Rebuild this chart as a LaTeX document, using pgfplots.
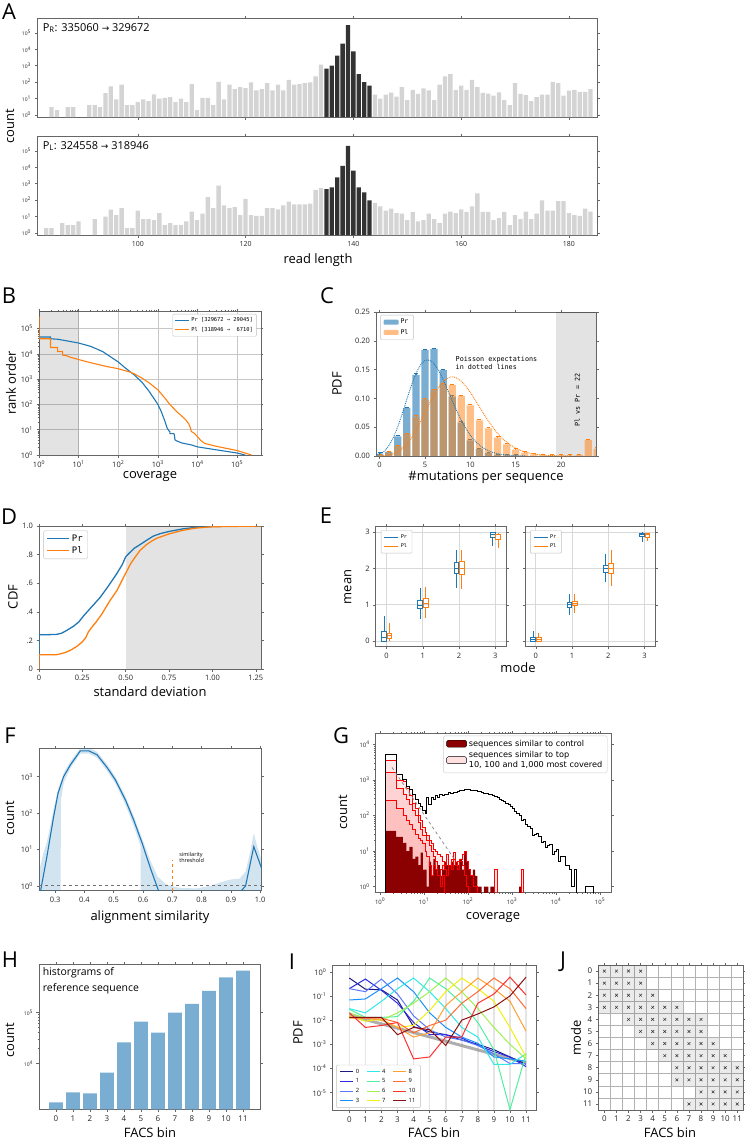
\documentclass[border=0pt]{standalone}
\usepackage{fontspec}
\setmainfont{Open Sans}
\newfontfamily\mono{DejaVu Sans Mono}
\newfontfamily\dvs{DejaVu Sans}
\usepackage{pgfplots}
\pgfplotsset{compat=1.18}
\usepgfplotslibrary{statistics}
\definecolor{mblue}{HTML}{1F77B4}
\definecolor{morange}{HTML}{FF7F0E}
\definecolor{hblue}{HTML}{79ADD2}
\definecolor{dred}{HTML}{8B0000}
\definecolor{frm}{HTML}{666666}
\definecolor{iA}{HTML}{1A1A80}
\definecolor{iB}{HTML}{2A2AE0}
\definecolor{iC}{HTML}{5A78FF}
\definecolor{iD}{HTML}{1A90FF}
\definecolor{iE}{HTML}{30E8E8}
\definecolor{iF}{HTML}{50F0A0}
\definecolor{iG}{HTML}{A0F050}
\definecolor{iH}{HTML}{F0F010}
\definecolor{iI}{HTML}{FFA030}
\definecolor{iJ}{HTML}{FF6A35}
\definecolor{iK}{HTML}{FF3030}
\definecolor{iL}{HTML}{8B1010}
\newcommand\lab{\fontsize{13}{15}\selectfont}
\newcommand\pl{\fontsize{22}{24}\selectfont}
\newcommand\bp[7]{\addplot[#1, line width=0.7bp, forget plot, boxplot prepared={draw direction=y, draw position=#2, lower whisker=#3, lower quartile=#4, median=#5, upper quartile=#6, upper whisker=#7, box extend=0.13, whisker extend=0}] coordinates {};}
\newcommand\cellrow[3]{\addplot[fill=black, fill opacity=0.08, draw=none, forget plot] coordinates {(#1-0.5,#3-0.5) (#2+0.5,#3-0.5) (#2+0.5,#3+0.5) (#1-0.5,#3+0.5)} -- cycle;}
\pgfplotsset{log number format basis/.code 2 args={#1\textsuperscript{\pgfmathprintnumber{#2}}}}
\pgfplotsset{
 every axis/.append style={
  scale only axis, anchor=north west,
  axis line style={frm, line width=0.8bp},
  tick align=outside,
  major tick length=2.5bp, minor tick length=1.4bp,
  tick style={frm, line width=0.5bp},
  tick label style={font=\fontsize{7.5}{8}\selectfont, text=black!85},
  /pgf/number format/assume math mode=true,
  legend cell align=left,
 },
}
\begin{document}
\begin{tikzpicture}
\path[use as bounding box] (0,0) rectangle (745bp,-1141bp);

% ---------------- A ----------------
\node[font=\pl] at (9bp,-12bp) {A};
\node[font=\lab, rotate=90] at (10bp,-126bp) {count};
\node[font=\lab] at (318bp,-260bp) {read length};
\begin{axis}[at={(37bp,-18bp)}, width=560bp, height=99bp, xmin=81.3, xmax=185.2,
  ymode=log, ymin=0.75, ymax=8e5, log origin y=infty,
  xtick={100,120,140,160,180}, xticklabels={}, ytick={1,10,100,1000,10000,100000}, yminorticks=false,
  yticklabel style={font=\fontsize{5}{6}\selectfont}]
\addplot[ybar, bar width=0.8, bar shift=0pt, fill=black!17, draw=none] coordinates {
(84,3) (85,2) (87,3) (88,3) (91,4) (92,4) (93,3) (94,21) (95,54) (96,9) (97,69) (98,4) (99,4) (100,6) (101,9) (102,7) (103,18) (104,10) (105,11) (106,12) (107,6) (108,10) (109,6) (110,75) (111,2) (112,11) (113,11) (114,4) (115,105) (116,9) (117,69) (118,37) (119,49) (120,43) (121,95) (122,31) (123,37) (124,87) (125,31) (126,69) (127,31) (128,138) (129,69) (130,75) (131,87) (132,95) (133,220) (134,1150)
(144,17) (145,10) (146,17) (147,23) (148,13) (149,49) (150,8) (151,34) (152,19) (153,41) (154,31) (155,8) (156,69) (157,220) (158,310) (159,34) (160,60) (161,34) (162,138) (163,49) (164,22) (165,20) (166,15) (167,24) (168,8) (169,4) (170,87) (171,19) (172,16) (173,7) (174,12) (175,17) (176,17) (177,105) (178,87) (179,15) (180,30) (181,34) (182,25) (183,25) (184,37)};
\addplot[ybar, bar width=0.8, bar shift=0pt, fill=black!80, draw=none] coordinates {
(135,660) (136,1000) (137,4100) (138,22000) (139,295000) (140,7500) (141,310) (142,100) (143,60)};
\node[anchor=west, font=\fontsize{11}{13}\selectfont] at (rel axis cs:0.004,0.9) {P\textsubscript{R}: 335060 {\dvs\fontsize{9}{9}\selectfont →} 329672};
\end{axis}
\begin{axis}[at={(37bp,-136bp)}, width=560bp, height=99bp, xmin=81.3, xmax=185.2,
  ymode=log, ymin=0.75, ymax=8e5, log origin y=infty,
  xtick={100,120,140,160,180}, ytick={1,10,100,1000,10000,100000}, yminorticks=false,
  yticklabel style={font=\fontsize{5}{6}\selectfont}, xticklabel style={font=\fontsize{7}{8}\selectfont}]
\addplot[ybar, bar width=0.8, bar shift=0pt, fill=black!17, draw=none] coordinates {
(83,2) (84,2) (86,4) (87,3) (88,3) (89,5) (92,7) (94,10) (95,26) (96,12) (97,32) (98,2) (99,2) (100,23) (101,7) (102,7) (103,6) (104,16) (105,3) (106,4) (107,3) (108,3) (109,5) (110,20) (111,6) (112,15) (113,150) (114,32) (115,760) (116,47) (117,32) (118,37) (119,12) (120,120) (121,12) (122,11) (123,11) (124,32) (125,32) (126,27) (127,47) (128,82) (129,54) (130,54) (131,54) (132,60) (133,420) (134,550)
(144,68) (145,41) (146,23) (147,30) (148,16) (149,15) (150,6) (151,19) (152,5) (153,6) (154,15) (155,7) (156,4) (157,15) (158,20) (159,16) (160,27) (161,19) (162,41) (163,260) (164,19) (165,19) (166,6) (167,8) (168,19) (169,3) (170,12) (171,7) (172,20) (173,7) (174,15) (175,95) (176,23) (177,23) (178,86) (179,86) (180,16) (181,12) (182,11) (183,30) (184,20)};
\addplot[ybar, bar width=0.8, bar shift=0pt, fill=black!80, draw=none] coordinates {
(135,460) (136,600) (137,2400) (138,12000) (139,200000) (140,6200) (141,600) (142,300) (143,95)};
\node[anchor=west, font=\fontsize{11}{13}\selectfont] at (rel axis cs:0.004,0.9) {P\textsubscript{L}: 324558 {\dvs\fontsize{9}{9}\selectfont →} 318946};
\end{axis}

% ---------------- B ----------------
\node[font=\pl] at (9bp,-296bp) {B};
\node[font=\lab, rotate=90] at (11bp,-383bp) {rank order};
\node[font=\lab] at (150bp,-477bp) {coverage};
\begin{axis}[at={(39bp,-311bp)}, width=222bp, height=144bp, xmode=log, ymode=log,
  xmin=1, xmax=4e5, ymin=1, ymax=5e5,
  grid=major, major grid style={black!22, line width=0.5bp},
  xtick={1,10,100,1000,10000,100000}, ytick={1,10,100,1000,10000,100000},
  legend style={at={(0.98,0.98)}, anchor=north east, font=\mono\fontsize{5.4}{6.6}\selectfont, draw=black!25, rounded corners=1bp, inner sep=1.5bp},
  legend image code/.code={\draw[#1] (0bp,0bp) -- (14bp,0bp);}]
\addplot[fill=black, fill opacity=0.11, draw=none, forget plot] coordinates {(1,1) (10,1) (10,5e5) (1,5e5)} -- cycle;
\addplot[mblue, line width=1.1bp] coordinates {
(1,47000) (1.95,47000) (1.95,40000) (3,38000) (5,33000) (10,27000) (20,20000) (40,12500) (70,7000) (100,4800) (150,2800) (250,1500) (400,750) (600,330) (800,170) (1000,100) (1200,55) (1500,22) (1700,12) (1900,9) (2000,8.5) (2000,7) (2500,7) (2600,6.5) (2700,4) (3000,3.6) (4000,3) (7000,2.5) (10000,2.1) (30000,1.6) (100000,1.2) (160000,1)};
\addlegendentry{Pr [329672 →~29045]}
\addplot[morange, line width=1.1bp] coordinates {
(1,300000) (1,40000) (1.95,40000) (1.95,18000) (2.95,18000) (2.95,12500) (3.95,12500) (3.95,9000) (5,8500) (6,7500) (10,6000) (20,4500) (50,3200) (100,2600) (200,1900) (250,1650) (400,1100) (600,720) (1000,380) (1500,180) (2000,100) (3000,52) (4000,35) (5000,25) (6000,17) (6500,13) (7000,8.5) (8000,7.5) (10000,5.3) (12000,3.8) (15000,2.9) (30000,2.2) (100000,1.5) (230000,1)};
\addlegendentry{Pl [318946 →~~6710]}
\end{axis}

% ---------------- C ----------------
\node[font=\pl] at (327bp,-296bp) {C};
\node[font=\lab, rotate=90] at (337bp,-384bp) {PDF};
\node[font=\lab] at (486bp,-477bp) {\#mutations per sequence};
\begin{axis}[at={(376bp,-312bp)}, width=220bp, height=144bp, xmin=-0.4, xmax=23.85, ymin=0, ymax=0.25,
  xtick={0,5,10,15,20}, ytick={0,0.05,0.1,0.15,0.2,0.25},
  yticklabel style={/pgf/number format/fixed, /pgf/number format/fixed zerofill, /pgf/number format/precision=2},
  legend style={at={(0.02,0.98)}, anchor=north west, font=\mono\fontsize{6.5}{8}\selectfont, draw=black!25, rounded corners=1bp},
  legend image code/.code={\fill[#1, draw=none] (0bp,-2.5bp) rectangle (15bp,2.5bp);}]
\addplot[fill=black, fill opacity=0.11, draw=none, forget plot] coordinates {(19.4,0) (24,0) (24,0.25) (19.4,0.25)} -- cycle;
\addplot[ybar, bar width=0.8, bar shift=0pt, fill=mblue, fill opacity=0.6, draw=none, forget plot,
  error bars/.cd, y dir=plus, y fixed=0.002, error mark=-, error bar style={mblue, line width=0.6bp}] coordinates {
(0,0.004) (1,0.007) (2,0.034) (3,0.083) (4,0.141) (5,0.184) (6,0.186) (7,0.149) (8,0.103) (9,0.058) (10,0.027) (11,0.012) (12,0.005) (13,0.002) (14,0.001) (15,0.0004)};
\addplot[ybar, bar width=0.8, bar shift=0pt, fill=morange, fill opacity=0.5, draw=none, forget plot,
  error bars/.cd, y dir=plus, y fixed=0.002, error mark=-, error bar style={morange, line width=0.6bp}] coordinates {
(0,0.001) (1,0.006) (2,0.017) (3,0.038) (4,0.068) (5,0.098) (6,0.114) (7,0.125) (8,0.123) (9,0.104) (10,0.088) (11,0.062) (12,0.048) (13,0.032) (14,0.020) (15,0.011) (16,0.006) (17,0.003) (18,0.002) (19,0.001) (20,0.0005) (21,0.0005) (22,0.002) (23,0.028) (24,0.013)};
\addplot[mblue, densely dotted, line width=0.9bp, smooth, forget plot] coordinates {
(-0.3,0.0015) (0,0.003) (0.5,0.0082) (1,0.0176) (1.5,0.0318) (2,0.0509) (2.5,0.0738) (3,0.0985) (3.5,0.1223) (4,0.1428) (4.5,0.1577) (5,0.1656) (5.5,0.1662) (6,0.1601) (6.5,0.1483) (7,0.1326) (7.5,0.1147) (8,0.0962) (8.5,0.0783) (9,0.0620) (9.5,0.0478) (10,0.0359) (10.5,0.0264) (11,0.0190) (11.5,0.0133) (12,0.0092) (12.5,0.0062) (13,0.0041) (13.5,0.0027) (14,0.0017) (15,0.0007) (16,0.0002)};
\addplot[morange, densely dotted, line width=0.9bp, smooth, forget plot] coordinates {
(0,0.0002) (1,0.0017) (2,0.0074) (3,0.0208) (4,0.0443) (5,0.0752) (6,0.1066) (7,0.1294) (8,0.1375) (9,0.1299) (10,0.1104) (11,0.0853) (12,0.0604) (13,0.0395) (14,0.024) (15,0.0136) (16,0.0072) (17,0.0036) (18,0.0017) (19,0.0008) (20,0.0003) (21,0.0001)};
\addlegendimage{fill=mblue, fill opacity=0.6}
\addlegendentry{Pr}
\addlegendimage{fill=morange, fill opacity=0.5}
\addlegendentry{Pl}
\node[anchor=west, font=\mono\fontsize{6.8}{8}\selectfont, align=left] at (axis cs:8.0,0.162) {Poisson expectations\\in dotted lines};
\node[rotate=90, font=\mono\fontsize{6.8}{8}\selectfont] at (axis cs:21.8,0.097) {Pl vs Pr = 22};
\end{axis}

% ---------------- D ----------------
\node[font=\pl] at (9bp,-517bp) {D};
\node[font=\lab, rotate=90] at (13bp,-597bp) {CDF};
\node[font=\lab] at (150bp,-692bp) {standard deviation};
\begin{axis}[at={(39bp,-526bp)}, width=222bp, height=143bp, xmin=0, xmax=1.28, ymin=0, ymax=1,
  xtick={0,0.25,0.5,0.75,1,1.25}, xticklabels={0,0.25,0.50,0.75,1.00,1.25},
  ytick={0,0.2,0.4,0.6,0.8,1}, yticklabels={0,.2,.4,.6,.8,1.0},
  legend style={at={(0.02,0.97)}, anchor=north west, font=\mono\fontsize{9}{11}\selectfont, draw=black!25, rounded corners=1.5bp},
  legend image code/.code={\draw[#1] (0bp,0bp) -- (22bp,0bp);}]
\addplot[fill=black, fill opacity=0.11, draw=none, forget plot] coordinates {(0.5,0) (1.28,0) (1.28,1) (0.5,1)} -- cycle;
\addplot[mblue, line width=1.3bp] coordinates {
(0,0) (0,0.24) (0.05,0.24) (0.1,0.242) (0.13,0.25) (0.16,0.27) (0.2,0.3) (0.23,0.33) (0.256,0.37) (0.3,0.43) (0.352,0.5) (0.4,0.58) (0.45,0.67) (0.48,0.73) (0.5,0.785) (0.52,0.81) (0.55,0.845) (0.583,0.87) (0.62,0.9) (0.66,0.93) (0.7,0.947) (0.75,0.962) (0.83,0.98) (0.9,0.99) (1.0,0.996) (1.1,0.999) (1.28,1)};
\addlegendentry{Pr}
\addplot[morange, line width=1.3bp] coordinates {
(0,0) (0,0.1) (0.05,0.1) (0.1,0.1) (0.12,0.105) (0.15,0.115) (0.18,0.13) (0.218,0.158) (0.25,0.19) (0.27,0.22) (0.285,0.26) (0.3,0.285) (0.33,0.33) (0.36,0.38) (0.41,0.48) (0.45,0.55) (0.487,0.64) (0.5,0.67) (0.53,0.74) (0.55,0.775) (0.583,0.83) (0.62,0.87) (0.65,0.895) (0.68,0.915) (0.75,0.945) (0.83,0.97) (0.9,0.985) (1.0,0.995) (1.28,1)};
\addlegendentry{Pl}
\end{axis}

% ---------------- E ----------------
\node[font=\pl] at (326bp,-516bp) {E};
\node[font=\lab, rotate=90] at (348bp,-587bp) {mean};
\node[font=\lab] at (518bp,-668bp) {mode};
\pgfplotsset{eax/.style={width=130.5bp, height=120bp, xmin=-0.3, xmax=3.3, ymin=-0.15, ymax=3.15,
  xtick={0,1,2,3}, ytick={0,1,2,3}, grid=major, major grid style={black!15, line width=0.8bp},
  legend style={at={(0.04,0.97)}, anchor=north west, font=\mono\fontsize{5.2}{6.5}\selectfont, draw=black!25, rounded corners=1bp},
  legend image code/.code={\draw[##1] (0bp,0bp) -- (14bp,0bp);}}}
\begin{axis}[eax, at={(375.7bp,-526.7bp)}]
\addlegendimage{mblue, line width=0.7bp}\addlegendentry{Pr}
\addlegendimage{morange, line width=0.7bp}\addlegendentry{Pl}
\bp{mblue}{-0.075}{0}{0.01}{0.1}{0.27}{0.7}
\bp{morange}{0.075}{0}{0.07}{0.15}{0.22}{0.49}
\bp{mblue}{0.925}{0.6}{0.9}{0.99}{1.13}{1.47}
\bp{morange}{1.075}{0.63}{0.94}{1.04}{1.17}{1.5}
\bp{mblue}{1.925}{1.47}{1.88}{2.0}{2.18}{2.5}
\bp{morange}{2.075}{1.43}{1.83}{2.0}{2.2}{2.5}
\bp{mblue}{2.925}{2.62}{2.85}{2.95}{3.0}{3.0}
\bp{morange}{3.075}{2.57}{2.8}{2.93}{2.95}{2.98}
\end{axis}
\begin{axis}[eax, at={(525bp,-526.7bp)}, yticklabels={}]
\addlegendimage{mblue, line width=0.7bp}\addlegendentry{Pr}
\addlegendimage{morange, line width=0.7bp}\addlegendentry{Pl}
\bp{mblue}{-0.075}{0}{0}{0.05}{0.11}{0.29}
\bp{morange}{0.075}{0}{0.01}{0.05}{0.1}{0.22}
\bp{mblue}{0.925}{0.72}{0.93}{1.01}{1.08}{1.31}
\bp{morange}{1.075}{0.78}{0.98}{1.04}{1.11}{1.31}
\bp{mblue}{1.925}{1.63}{1.9}{2.0}{2.1}{2.4}
\bp{morange}{2.075}{1.51}{1.88}{2.01}{2.13}{2.5}
\bp{mblue}{2.925}{2.74}{2.89}{2.95}{2.98}{3.0}
\bp{morange}{3.075}{2.75}{2.86}{2.93}{2.97}{2.98}
\end{axis}

% ---------------- F ----------------
\node[font=\pl] at (10bp,-736bp) {F};
\node[font=\lab, rotate=90] at (10bp,-818bp) {count};
\node[font=\lab] at (150bp,-917bp) {alignment similarity};
\begin{axis}[at={(39bp,-748.3bp)}, width=222.7bp, height=142.4bp, xmin=0.245, xmax=1.005,
  ymode=log, ymin=0.74, ymax=6000, yminorticks=false,
  xtick={0.3,0.4,0.5,0.6,0.7,0.8,0.9,1.0}, xticklabels={0.3,0.4,0.5,0.6,0.7,0.8,0.9,1.0},
  ytick={1,10,100,1000}]
\addplot[fill=mblue, fill opacity=0.2, draw=none] coordinates {
(0.245,2.5) (0.26,8) (0.272,16) (0.295,130) (0.31,450) (0.33,1300) (0.352,2600) (0.386,6200) (0.415,6200) (0.443,4800) (0.477,2200) (0.506,1000) (0.54,290) (0.568,85) (0.597,20) (0.625,5) (0.65,1.8) (0.68,1.1) (0.72,0.9) (0.78,0.85) (0.83,1.0) (0.87,1.3) (0.9,1.5) (0.93,1.6) (0.95,2.5) (0.965,8) (0.978,28) (0.99,12) (1.005,5)
(1.005,0.1) (0.592,0.1) (0.592,12) (0.568,45) (0.54,170) (0.506,640) (0.477,1450) (0.443,3300) (0.415,4300) (0.386,4300) (0.352,1700) (0.33,700) (0.32,230) (0.318,0.1) (0.245,0.1)} -- cycle;
\addplot[mblue, line width=1.1bp] coordinates {
(0.25,0.7) (0.272,6.4) (0.295,80) (0.31,350) (0.329,1000) (0.352,2100) (0.386,5100) (0.415,5100) (0.443,4000) (0.477,1800) (0.506,810) (0.54,230) (0.568,65) (0.597,15) (0.625,3.1) (0.654,0.7)};
\addplot[mblue, line width=1.1bp] coordinates {(0.925,0.6) (0.95,1.0) (0.978,12) (1.005,3)};
\addplot[black!55, dashed, line width=0.9bp] coordinates {(0.245,1) (1.005,1)};
\addplot[morange, dashed, line width=1bp] coordinates {(0.7,0.5) (0.7,5.2)};
\node[anchor=west, font=\fontsize{5.5}{6.5}\selectfont, align=left] at (axis cs:0.712,6.1) {similarity\\threshold};
\end{axis}

% ---------------- G ----------------
\node[font=\pl] at (341bp,-736bp) {G};
\node[font=\lab, rotate=90] at (343bp,-812bp) {count};
\node[font=\lab] at (493bp,-918bp) {coverage};
\begin{axis}[at={(375.7bp,-733.3bp)}, width=235.3bp, height=159bp, xmin=-0.1, xmax=5.25,
  ymode=log, ymin=0.69, ymax=20400,
  xtick={0,1,2,3,4,5}, xticklabels={10\textsuperscript{0},10\textsuperscript{1},10\textsuperscript{2},10\textsuperscript{3},10\textsuperscript{4},10\textsuperscript{5}},
  minor xtick={0.301,0.477,0.602,0.699,0.778,0.845,0.903,0.954,1.301,1.477,1.602,1.699,1.778,1.845,1.903,1.954,2.301,2.477,2.602,2.699,2.778,2.845,2.903,2.954,3.301,3.477,3.602,3.699,3.778,3.845,3.903,3.954,4.301,4.477,4.602,4.699,4.778,4.845,4.903,4.954},
  ytick={1,10,100,1000,10000}, tick label style={font=\fontsize{6}{7}\selectfont},
  legend style={at={(0.985,0.985)}, anchor=north east, font=\dvs\fontsize{8.2}{9.6}\selectfont, draw=black!20, rounded corners=1.5bp, cells={align=left}},
  legend image code/.code={\fill[#1] (0bp,-3.5bp) rectangle (20bp,3.5bp);}]
\addplot[const plot, fill=red, fill opacity=0.09, draw=none, forget plot] coordinates {
(0.114,0.1) (0.114,3630) (0.362,980) (0.519,930) (0.60,560) (0.667,355) (0.742,224) (0.80,158) (0.87,100) (0.92,71) (0.97,45) (1.02,33) (1.06,28) (1.11,20) (1.16,16) (1.21,11) (1.26,10) (1.31,8) (1.36,7) (1.41,5) (1.46,4) (1.51,8) (1.56,4) (1.61,6) (1.66,9) (1.71,4) (1.76,5) (1.81,6) (1.86,8) (1.91,10) (1.96,5) (2.01,3) (2.06,2) (2.11,1) (2.21,0.1) (2.61,3) (2.66,0.1) (3.21,3) (3.26,0.1)} -- cycle;
\addplot[const plot, fill=red, fill opacity=0.09, draw=none, forget plot] coordinates {
(0.114,0.1) (0.114,1660) (0.362,560) (0.519,400) (0.60,280) (0.667,200) (0.742,141) (0.80,100) (0.87,63) (0.92,40) (0.97,28) (1.02,28) (1.06,20) (1.11,14) (1.16,10) (1.21,7) (1.26,5) (1.31,2) (1.36,3) (1.41,4) (1.46,3) (1.51,2) (1.56,4) (1.61,3) (1.66,6) (1.71,4) (1.76,3) (1.81,5) (1.86,4) (1.91,2) (1.96,1) (2.01,1) (2.01,0.1)} -- cycle;
\addplot[const plot, fill=red, fill opacity=0.09, draw=none, forget plot] coordinates {
(0.114,0.1) (0.114,263) (0.362,158) (0.519,100) (0.60,71) (0.667,56) (0.742,40) (0.80,30) (0.87,22) (0.92,20) (0.97,16) (1.02,10) (1.06,7) (1.11,4) (1.16,2) (1.21,4) (1.26,3) (1.31,2) (1.36,1) (1.41,2) (1.46,2) (1.46,0.1)} -- cycle;
\addplot[const plot, fill=dred, draw=none, forget plot] coordinates {
(0.114,0.1) (0.114,37) (0.362,25) (0.519,17) (0.60,10) (0.667,13) (0.742,6) (0.80,7) (0.87,4) (0.92,9) (0.97,3) (1.02,3) (1.06,1) (1.11,5) (1.16,2) (1.21,6) (1.26,3) (1.31,4) (1.36,2) (1.41,3) (1.46,5) (1.51,4) (1.56,4) (1.61,5) (1.66,4) (1.71,5) (1.76,4) (1.81,6) (1.86,3) (1.91,10) (1.96,5) (2.01,3) (2.06,2) (2.11,3) (2.16,2) (2.21,1) (2.31,0.1) (2.36,1) (2.46,0.1) (2.51,1) (2.61,0.1) (3.16,1) (3.21,0.1)} -- cycle;
\addplot[const plot, red, line width=0.8bp, forget plot] coordinates {
(0.114,0.1) (0.114,3630) (0.362,980) (0.519,930) (0.60,560) (0.667,355) (0.742,224) (0.80,158) (0.87,100) (0.92,71) (0.97,45) (1.02,33) (1.06,28) (1.11,20) (1.16,16) (1.21,11) (1.26,10) (1.31,8) (1.36,7) (1.41,5) (1.46,4) (1.51,8) (1.56,4) (1.61,6) (1.66,9) (1.71,4) (1.76,5) (1.81,6) (1.86,8) (1.91,10) (1.96,5) (2.01,3) (2.06,2) (2.11,1) (2.21,0.1) (2.61,3) (2.66,0.1) (3.21,3) (3.26,0.1)};
\addplot[const plot, red, line width=0.8bp, forget plot] coordinates {
(0.114,0.1) (0.114,1660) (0.362,560) (0.519,400) (0.60,280) (0.667,200) (0.742,141) (0.80,100) (0.87,63) (0.92,40) (0.97,28) (1.02,28) (1.06,20) (1.11,14) (1.16,10) (1.21,7) (1.26,5) (1.31,2) (1.36,3) (1.41,4) (1.46,3) (1.51,2) (1.56,4) (1.61,3) (1.66,6) (1.71,4) (1.76,3) (1.81,5) (1.86,4) (1.91,2) (1.96,1) (2.01,1) (2.01,0.1)};
\addplot[const plot, red, line width=0.8bp, forget plot] coordinates {
(0.114,0.1) (0.114,263) (0.362,158) (0.519,100) (0.60,71) (0.667,56) (0.742,40) (0.80,30) (0.87,22) (0.92,20) (0.97,16) (1.02,10) (1.06,7) (1.11,4) (1.16,2) (1.21,4) (1.26,3) (1.31,2) (1.36,1) (1.41,2) (1.46,2) (1.46,0.1)};
\addplot[const plot, black, line width=0.9bp, forget plot] coordinates {
(0.114,0.1) (0.114,5250) (0.362,1380) (0.519,1050) (0.60,646) (0.667,525) (0.742,389) (0.80,275) (0.87,214) (0.92,182) (0.97,141) (1.02,112) (1.06,316) (1.11,200) (1.16,331) (1.21,282) (1.26,355) (1.31,316) (1.36,380) (1.41,355) (1.46,398) (1.51,380) (1.56,437) (1.61,417) (1.66,457) (1.71,437) (1.76,479) (1.81,501) (1.86,490) (1.91,525) (1.96,537) (2.01,525) (2.06,513) (2.11,501) (2.16,490) (2.21,479) (2.26,468) (2.31,457) (2.36,427) (2.41,417) (2.46,398) (2.51,380) (2.56,355) (2.61,339) (2.66,316) (2.71,288) (2.76,263) (2.81,240) (2.86,219) (2.91,200) (2.96,178) (3.01,158) (3.06,132) (3.11,112) (3.16,100) (3.21,74) (3.26,76) (3.31,56) (3.36,48) (3.41,43) (3.46,28) (3.51,30) (3.56,32) (3.61,26) (3.66,17) (3.71,18) (3.76,13) (3.81,14) (3.86,15) (3.91,8) (3.96,10) (4.01,11) (4.06,5) (4.11,7) (4.16,7) (4.21,4) (4.26,4) (4.31,3) (4.36,1) (4.41,3) (4.46,0.1) (4.66,1) (4.86,1) (4.86,0.1)};
\addplot[black!45, dashed, line width=0.8bp, forget plot] coordinates {(0.27,2240) (1.7,5.6)};
\addlegendimage{fill=dred}
\addlegendentry{sequences similar to control}
\addlegendimage{fill=red!12}
\addlegendentry{sequences similar to top\\10, 100 and 1,000 most covered}
\end{axis}

% ---------------- H ----------------
\node[font=\pl] at (10bp,-960bp) {H};
\node[font=\lab, rotate=90] at (10bp,-1040bp) {count};
\node[font=\lab] at (150bp,-1133bp) {FACS bin};
\begin{axis}[at={(39bp,-964.3bp)}, width=221bp, height=145bp, xmin=-1, xmax=12,
  ymode=log, ymin=1259, ymax=871000, log origin y=infty,
  xtick={0,...,11}, ytick={10000,100000},
  yticklabel style={font=\fontsize{5}{6}\selectfont}, xticklabel style={font=\fontsize{8}{9}\selectfont}]
\addplot[ybar, bar width=0.8, bar shift=0pt, fill=hblue, draw=none] coordinates {
(0,1720) (1,2700) (2,2580) (3,6600) (4,25900) (5,65600) (6,40000) (7,98500) (8,146000) (9,262000) (10,485000) (11,656000)};
\node[anchor=north west, font=\fontsize{10.5}{16}\selectfont, align=left, inner sep=1bp] at (rel axis cs:0.012,0.985) {historgrams of\\reference sequence};
\end{axis}

% ---------------- I ----------------
\node[font=\pl] at (292bp,-962bp) {I};
\node[font=\lab, rotate=90] at (298bp,-1033bp) {PDF};
\node[font=\lab] at (434bp,-1133bp) {FACS bin};
\begin{axis}[at={(332.3bp,-965bp)}, width=203.7bp, height=145.7bp, xmin=-1.06, xmax=11.62,
  ymode=log, ymin=1.8e-6, ymax=1.9, yminorticks=false,
  xtick={0,...,11}, ytick={0.00001,0.0001,0.001,0.01,0.1,1},
  xmajorgrids, major grid style={black!10, line width=1.6bp},
  xticklabel style={font=\fontsize{8}{9}\selectfont},
  legend columns=3, legend style={at={(0.02,0.02)}, anchor=south west, font=\fontsize{5.8}{6.8}\selectfont, draw=black!25, rounded corners=1bp, /tikz/every even column/.append style={column sep=5bp}},
  legend image code/.code={\draw[#1] (0bp,0bp) -- (13bp,0bp);}]
\addplot[black!45, opacity=0.7, line width=3bp, forget plot] coordinates {(0,0.016) (11,0.00017)};
\addplot[iA, line width=1bp, forget plot] coordinates {(0,0.55) (1,0.19) (2,0.18) (3,0.068) (4,0.0054) (5,0.0033) (6,0.0025) (7,0.0015) (8,0.001) (9,0.0006) (10,0.0003) (11,0.00015)};
\addplot[iB, line width=1bp, forget plot] coordinates {(0,0.2) (1,0.5) (2,0.17) (3,0.05) (4,0.008) (5,0.0025) (6,0.0025) (7,0.0018) (8,0.0009) (9,0.0005) (10,0.0003) (11,0.00012)};
\addplot[iC, line width=1bp, forget plot] coordinates {(0,0.2) (1,0.15) (2,0.5) (3,0.12) (4,0.015) (5,0.004) (6,0.002) (7,0.0015) (8,0.0009) (9,0.0004) (10,0.00016) (11,0.00016)};
\addplot[iD, line width=1bp, forget plot] coordinates {(0,0.068) (1,0.075) (2,0.2) (3,0.55) (4,0.15) (5,0.02) (6,0.005) (7,0.002) (8,0.0011) (9,0.0003) (10,0.00025) (11,0.0002)};
\addplot[iE, line width=1bp, forget plot] coordinates {(0,0.03) (1,0.02) (2,0.06) (3,0.2) (4,0.55) (5,0.15) (6,0.03) (7,0.005) (8,0.002) (9,0.00015) (10,0.00015) (11,0.0004)};
\addplot[iF, line width=1bp, forget plot] coordinates {(0,0.028) (1,0.013) (2,0.013) (3,0.014) (4,0.06) (5,0.55) (6,0.2) (7,0.05) (8,0.008) (9,0.0006) (10,0.000002) (11,0.0004)};
\addplot[iG, line width=1bp, forget plot] coordinates {(0,0.02) (1,0.012) (2,0.01) (3,0.02) (4,0.05) (5,0.15) (6,0.55) (7,0.15) (8,0.03) (9,0.005) (10,0.001) (11,0.00025)};
\addplot[iH, line width=1bp, forget plot] coordinates {(0,0.015) (1,0.009) (2,0.011) (3,0.005) (4,0.006) (5,0.025) (6,0.15) (7,0.55) (8,0.2) (9,0.06) (10,0.005) (11,0.0003)};
\addplot[iI, line width=1bp, forget plot] coordinates {(0,0.012) (1,0.012) (2,0.01) (3,0.005) (4,0.002) (5,0.003) (6,0.04) (7,0.15) (8,0.55) (9,0.2) (10,0.06) (11,0.0035)};
\addplot[iJ, line width=1bp, forget plot] coordinates {(0,0.013) (1,0.012) (2,0.012) (3,0.008) (4,0.003) (5,0.006) (6,0.01) (7,0.05) (8,0.15) (9,0.55) (10,0.2) (11,0.03)};
\addplot[iK, line width=1bp, forget plot] coordinates {(0,0.02) (1,0.005) (2,0.006) (3,0.008) (4,0.00025) (5,0.0003) (6,0.002) (7,0.002) (8,0.05) (9,0.12) (10,0.6) (11,0.11)};
\addplot[iL, line width=1bp, forget plot] coordinates {(0,0.013) (1,0.013) (2,0.013) (3,0.0025) (4,0.005) (5,0.004) (6,0.0009) (7,0.01) (8,0.018) (9,0.035) (10,0.1) (11,0.6)};
\addlegendimage{iA, line width=1.2bp}\addlegendentry{0}
\addlegendimage{iE, line width=1.2bp}\addlegendentry{4}
\addlegendimage{iI, line width=1.2bp}\addlegendentry{8}
\addlegendimage{iB, line width=1.2bp}\addlegendentry{1}
\addlegendimage{iF, line width=1.2bp}\addlegendentry{5}
\addlegendimage{iJ, line width=1.2bp}\addlegendentry{9}
\addlegendimage{iC, line width=1.2bp}\addlegendentry{2}
\addlegendimage{iG, line width=1.2bp}\addlegendentry{6}
\addlegendimage{iK, line width=1.2bp}\addlegendentry{10}
\addlegendimage{iD, line width=1.2bp}\addlegendentry{3}
\addlegendimage{iH, line width=1.2bp}\addlegendentry{7}
\addlegendimage{iL, line width=1.2bp}\addlegendentry{11}
\end{axis}

% ---------------- J ----------------
\node[font=\pl] at (563bp,-962bp) {J};
\node[font=\lab, rotate=90] at (576bp,-1038bp) {mode};
\node[font=\lab] at (670bp,-1133bp) {FACS bin};
\begin{axis}[at={(598.3bp,-965bp)}, width=145bp, height=145bp, xmin=-0.5, xmax=11.5, ymin=-0.5, ymax=11.5,
  y dir=reverse, xtick={0,...,11}, ytick={0,...,11},
  minor xtick={-0.5,0.5,...,11.5}, minor ytick={-0.5,0.5,...,11.5},
  xminorgrids, yminorgrids, minor grid style={black!30, line width=0.6bp}, minor tick length=0pt,
  tick label style={font=\fontsize{8}{9}\selectfont}]
\cellrow{0}{3}{0}
\cellrow{0}{3}{1}
\cellrow{0}{4}{2}
\cellrow{0}{6}{3}
\cellrow{2}{8}{4}
\cellrow{3}{8}{5}
\cellrow{4}{9}{6}
\cellrow{5}{10}{7}
\cellrow{6}{11}{8}
\cellrow{6}{11}{9}
\cellrow{8}{11}{10}
\cellrow{7}{11}{11}
\addplot[only marks, mark=x, mark size=2bp, color=black!80, mark options={line width=0.5bp}] coordinates {
(0,0) (1,0) (2,0) (3,0)
(0,1) (1,1) (2,1) (3,1)
(0,2) (1,2) (2,2) (3,2) (4,2)
(0,3) (1,3) (2,3) (3,3) (4,3) (5,3) (6,3)
(2,4) (3,4) (4,4) (5,4) (6,4) (7,4) (8,4)
(3,5) (4,5) (5,5) (6,5) (7,5) (8,5)
(4,6) (5,6) (6,6) (7,6) (8,6) (9,6)
(5,7) (6,7) (7,7) (8,7) (9,7) (10,7)
(6,8) (7,8) (8,8) (9,8) (10,8) (11,8)
(6,9) (7,9) (8,9) (9,9) (10,9) (11,9)
(8,10) (9,10) (10,10) (11,10)
(7,11) (8,11) (9,11) (10,11) (11,11)};
\end{axis}
\end{tikzpicture}
\end{document}
